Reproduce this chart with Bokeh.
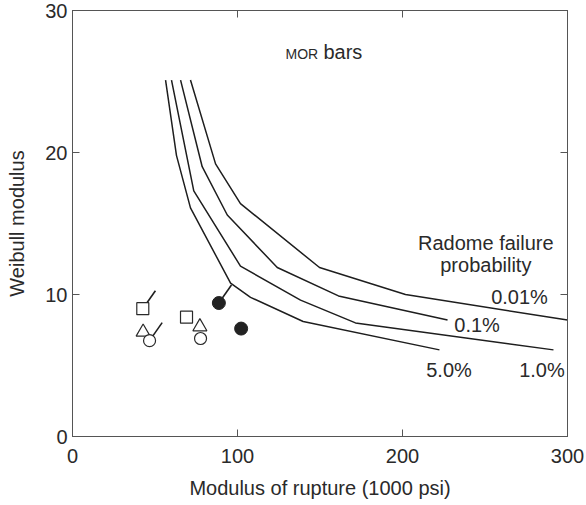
from bokeh.plotting import figure
from bokeh.models import LinearAxis, Range1d, FixedTicker
from bokeh.embed import file_html
from bokeh.resources import INLINE
from bokeh.core.properties import value

FONT = "Liberation Sans"
INK = "#2a2a2a"

# ---- data ----
x_ticks = [0, 100, 200, 300]
y_ticks = [0, 10, 20, 30]

# iso-probability curves (modulus of rupture, Weibull modulus)
x_p001 = [71.5, 86.7, 101.8, 149.7, 201.8, 300.0]
y_p001 = [25.1, 19.2, 16.4, 11.9, 10.0, 8.2]
x_p01 = [65.5, 78.6, 93.8, 124.1, 161.2, 227.3]
y_p01 = [25.1, 19.0, 15.6, 11.9, 9.9, 8.2]
x_p10 = [60.0, 73.5, 101.8, 138.2, 171.5, 291.5]
y_p10 = [25.1, 17.3, 12.0, 9.6, 8.0, 6.1]
x_p50 = [56.4, 63.0, 71.5, 95.8, 107.9, 139.8, 222.4]
y_p50 = [25.1, 19.8, 16.1, 10.8, 9.8, 8.1, 6.1]

curve_labels = ["0.01%", "0.1%", "5.0%", "1.0%"]
curve_label_x = [270.9, 245.2, 228.2, 284.5]
curve_label_y = [9.83, 7.83, 4.71, 4.71]

# measured points
sq_x = [42.6, 69.1]
sq_y = [9.0, 8.4]
sq_flag = [True, False]
tri_x = [42.8, 77.2]
tri_y = [7.35, 7.73]
circ_x = [46.7, 77.6]
circ_y = [6.75, 6.9]
circ_flag = [True, False]
dot_x = [88.7, 102.2]
dot_y = [9.4, 7.6]
dot_flag = [True, False]

# ---- figure ----
p = figure(width=584, height=505, output_backend="svg", toolbar_location=None,
           x_range=Range1d(0, 300), y_range=Range1d(0, 30),
           min_border_left=72, min_border_right=17, min_border_top=10,
           min_border_bottom=69, x_axis_location=None, y_axis_location=None)
p.grid.visible = False
p.outline_line_color = "#555555"
p.background_fill_color = "white"
p.border_fill_color = "white"


def style_axis(ax, labels=True):
    ax.axis_line_color = "#555555"
    ax.major_tick_line_color = "#555555"
    ax.major_tick_in = 7
    ax.major_tick_out = 0
    ax.minor_tick_line_color = None
    ax.major_label_text_font = FONT
    ax.major_label_text_font_size = "20px"
    ax.major_label_text_color = INK if labels else None
    ax.axis_label_text_font = FONT
    ax.axis_label_text_font_size = "20px"
    ax.axis_label_text_font_style = "normal"
    ax.axis_label_text_color = INK


xb = LinearAxis(ticker=FixedTicker(ticks=x_ticks), axis_label="Modulus of rupture (1000 psi)")
style_axis(xb)
xb.major_label_standoff = 12
xb.axis_label_standoff = 11
p.add_layout(xb, "below")

yl = LinearAxis(ticker=FixedTicker(ticks=y_ticks), axis_label="Weibull modulus")
style_axis(yl)
yl.major_label_standoff = 5
yl.axis_label_standoff = 14
p.add_layout(yl, "left")

xt = LinearAxis(ticker=FixedTicker(ticks=x_ticks))
style_axis(xt, labels=False)
xt.major_label_standoff = 0
p.add_layout(xt, "above")

yr = LinearAxis(ticker=FixedTicker(ticks=y_ticks))
style_axis(yr, labels=False)
yr.major_label_standoff = 0
p.add_layout(yr, "right")

# curves
for xs, ys in [(x_p001, y_p001), (x_p01, y_p01), (x_p10, y_p10), (x_p50, y_p50)]:
    p.line(xs, ys, line_color="#1e1e1e", line_width=1.5)

p.text(curve_label_x, curve_label_y, text=curve_labels, text_font=value(FONT),
       text_font_size="20px", text_color=INK, text_align="center",
       text_baseline="middle")

# flags (drawn first, covered by the markers)
fx = [x for x, f in zip(sq_x, sq_flag) if f] + [x for x, f in zip(circ_x, circ_flag) if f] + \
     [x for x, f in zip(dot_x, dot_flag) if f]
fy = [y for y, f in zip(sq_y, sq_flag) if f] + [y for y, f in zip(circ_y, circ_flag) if f] + \
     [y for y, f in zip(dot_y, dot_flag) if f]
p.ray(fx, fy, length=22, length_units="screen", angle=55, angle_units="deg",
      line_color="#1e1e1e", line_width=1.6)

p.scatter(sq_x, sq_y, marker="square", size=12, fill_color="white",
          line_color="#2a2a2a", line_width=1.2)
p.scatter(tri_x, tri_y, marker="triangle", size=14, fill_color="white",
          line_color="#2a2a2a", line_width=1.2)
p.scatter(circ_x, circ_y, marker="circle", size=12, fill_color="white",
          line_color="#2a2a2a", line_width=1.2)
p.scatter(dot_x, dot_y, marker="circle", size=13, fill_color="#222222",
          line_color="#222222", line_width=1)

# annotations
p.text([129.1], [26.94], text=["MOR"], text_font=value(FONT), text_font_size="14px",
       text_color=INK, text_align="left", text_baseline="middle")
p.text([152.1], [27.08], text=["bars"], text_font=value(FONT), text_font_size="20px",
       text_color=INK, text_align="left", text_baseline="middle")
p.text([250.5, 250.5], [13.63, 12.05], text=["Radome failure", "probability"],
       text_font=value(FONT), text_font_size="20px", text_color=INK,
       text_align="center", text_baseline="middle")

open("out.html", "w").write(file_html(p, INLINE))
